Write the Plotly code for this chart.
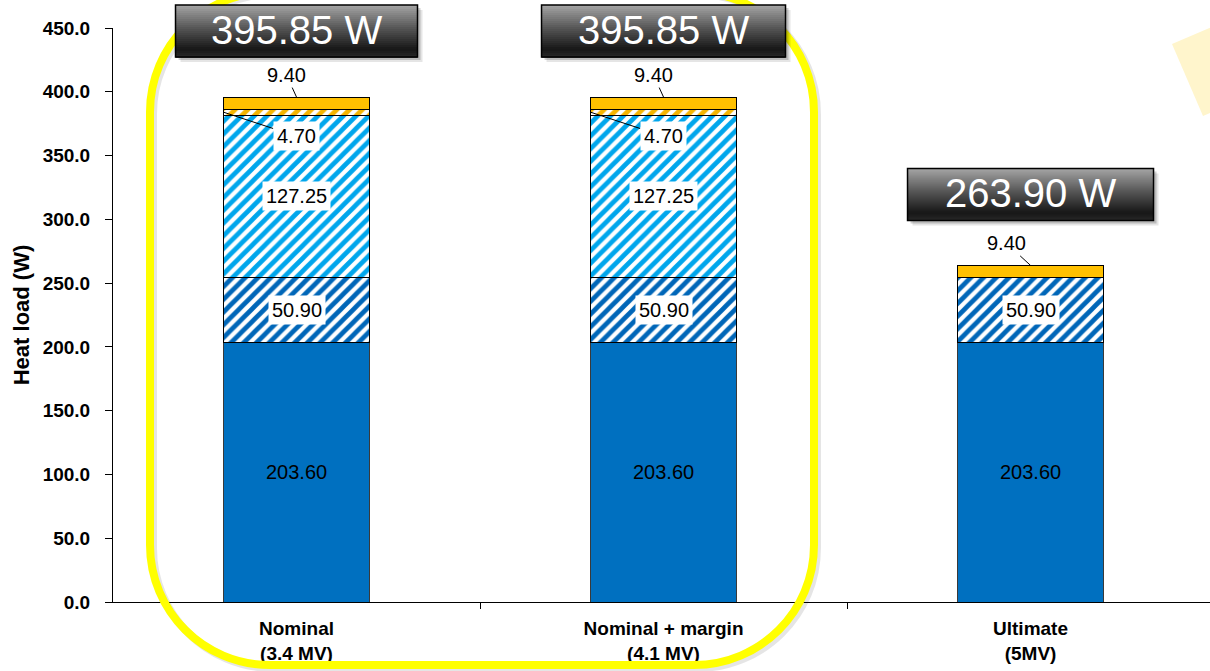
import plotly.graph_objects as go

# ---- data ----
categories = ["Nominal<br>(3.4 MV)", "Nominal + margin<br>(4.1 MV)", "Ultimate<br>(5MV)"]
seg_base = [203.60, 203.60, 203.60]          # solid blue
seg_blue_hatch = [50.90, 50.90, 50.90]       # hatched dark blue
seg_cyan_hatch = [127.25, 127.25, 0.0]       # hatched light blue
seg_orange_hatch = [4.70, 4.70, 0.0]         # hatched orange
seg_orange = [9.40, 9.40, 9.40]              # solid orange
y_ticks = [0, 50, 100, 150, 200, 250, 300, 350, 400, 450]

Y_MAX = 450.0
W, H = 1210, 671
ML, MR, MT, MB = 113, 0, 28, 69
PW, PH = W - ML - MR, H - MT - MB

FONT = "Liberation Sans, Arial, sans-serif"
BLUE = "#0070C0"
CYAN = "#00B0F0"
ORANGE = "#FFC000"

xs = list(range(len(categories)))
totals = [sum(v) for v in zip(seg_base, seg_blue_hatch, seg_cyan_hatch, seg_orange_hatch, seg_orange)]


def px(x, y):
    """pixel position on the page -> paper coordinates"""
    return (x - ML) / PW, (H - MB - y) / PH


fig = go.Figure()

def add_seg(vals, color, hatch, line_color="#000000", hatch_color=None):
    pattern = None
    if hatch:
        pattern = dict(shape="/", fgcolor=hatch_color or color, bgcolor="white",
                       fgopacity=1, size=9, solidity=0.52)
    fig.add_trace(go.Bar(
        x=xs, y=vals, width=0.4,
        marker=dict(color=color, line=dict(color=line_color, width=1), pattern=pattern),
        hoverinfo="skip", showlegend=False,
    ))

add_seg(seg_base, BLUE, False, "#3a3a3a")
add_seg(seg_blue_hatch, BLUE, True, hatch_color="#0066B8")
add_seg(seg_cyan_hatch, CYAN, True, hatch_color="#00A6EC")
add_seg(seg_orange_hatch, ORANGE, True, hatch_color="#F5B400")
add_seg(seg_orange, ORANGE, False)

shapes = []

# pale yellow wedge in the top-right corner
wedge = [px(1172, 44), px(1212, 27), px(1212, 112), px(1203, 116)]
shapes.append(dict(
    type="path", xref="paper", yref="paper", layer="below",
    path="M " + " L ".join(f"{a:.5f},{b:.5f}" for a, b in wedge) + " Z",
    fillcolor="#FFF5CC", line=dict(width=0),
))

# rounded highlight frame around the first two columns
def rounded_rect(left, top, right, bottom, r):
    k = 0.5523 * r
    pts = [
        ("M", [(left + r, top)]),
        ("L", [(right - r, top)]),
        ("C", [(right - r + k, top), (right, top + r - k), (right, top + r)]),
        ("L", [(right, bottom - r)]),
        ("C", [(right, bottom - r + k), (right - r + k, bottom), (right - r, bottom)]),
        ("L", [(left + r, bottom)]),
        ("C", [(left + r - k, bottom), (left, bottom - r + k), (left, bottom - r)]),
        ("L", [(left, top + r)]),
        ("C", [(left, top + r - k), (left + r - k, top), (left + r, top)]),
    ]
    out = []
    for cmd, plist in pts:
        out.append(cmd + " " + " ".join("%.5f,%.5f" % px(a, b) for a, b in plist))
    return " ".join(out) + " Z"

shapes.append(dict(type="path", xref="paper", yref="paper", layer="above",
                   path=rounded_rect(153, -6, 817, 668, 120),
                   line=dict(color="rgba(0,0,0,0.10)", width=8)))
shapes.append(dict(type="path", xref="paper", yref="paper", layer="above",
                   path=rounded_rect(150, -8, 814, 665, 120),
                   line=dict(color="#FFFF00", width=8)))

# dark gradient boxes holding the column totals
box_offsets = [66, 66, 71]
box_half_w = [121, 122, 123]
BOX_HALF_H = 26
grad_stops = [(0.0, (165, 165, 165)), (0.45, (85, 85, 85)), (0.85, (22, 22, 22)), (1.0, (40, 40, 40))]

def grad_color(t):
    for (t0, c0), (t1, c1) in zip(grad_stops[:-1], grad_stops[1:]):
        if t <= t1:
            f = (t - t0) / (t1 - t0)
            c = [round(a + (b - a) * f) for a, b in zip(c0, c1)]
            return "rgb(%d,%d,%d)" % tuple(c)
    return "rgb(%d,%d,%d)" % grad_stops[-1][1]

annotations = []
N_STRIPS = 26
for i, tot in enumerate(totals):
    yc = box_offsets[i]
    hw = box_half_w[i]
    anchor = dict(xref="x", yref="paper", xsizemode="pixel", ysizemode="pixel",
                  xanchor=xs[i], yanchor=tot / Y_MAX, layer="above")
    # soft drop shadow
    for d, a in ((5, 0.10), (3, 0.18)):
        shapes.append(dict(type="rect", **anchor, x0=-hw + d, x1=hw + d,
                           y0=yc - BOX_HALF_H - d, y1=yc + BOX_HALF_H - d,
                           fillcolor=f"rgba(0,0,0,{a})", line=dict(width=0)))
    step = 2 * BOX_HALF_H / N_STRIPS
    for s in range(N_STRIPS):
        top = yc + BOX_HALF_H - s * step
        shapes.append(dict(type="rect", **anchor, x0=-hw, x1=hw,
                           y0=top - step - 0.6, y1=top,
                           fillcolor=grad_color((s + 0.5) / N_STRIPS), line=dict(width=0)))
    shapes.append(dict(type="rect", **anchor, x0=-hw, x1=hw,
                       y0=yc - BOX_HALF_H, y1=yc + BOX_HALF_H,
                       fillcolor="rgba(0,0,0,0)", line=dict(color="#000000", width=1.5)))
    # total value text, placed in paper units at the box centre
    annotations.append(dict(xref="x", yref="paper", x=xs[i], y=tot / Y_MAX + (yc + 1) / PH,
                            yanchor="middle", xanchor="center",
                            text=f"{tot:.2f} W", showarrow=False,
                            font=dict(family=FONT, size=40, color="white")))

# segment value labels
LABEL_FONT = dict(family=FONT, size=20, color="black")
for i in xs:
    b0 = seg_base[i]
    b1 = b0 + seg_blue_hatch[i]
    b2 = b1 + seg_cyan_hatch[i]
    b3 = b2 + seg_orange_hatch[i]
    annotations.append(dict(x=i, y=b0 / 2, text=f"{seg_base[i]:.2f}", showarrow=False, font=LABEL_FONT))
    annotations.append(dict(x=i, y=b0 + seg_blue_hatch[i] / 2, text=f"{seg_blue_hatch[i]:.2f}",
                            showarrow=False, font=LABEL_FONT, bgcolor="white", borderpad=3))
    if seg_cyan_hatch[i] > 0:
        annotations.append(dict(x=i, y=b1 + seg_cyan_hatch[i] / 2, text=f"{seg_cyan_hatch[i]:.2f}",
                                showarrow=False, font=LABEL_FONT, bgcolor="white", borderpad=3))
    if seg_orange_hatch[i] > 0:
        annotations.append(dict(x=i - 0.2, y=b2 + seg_orange_hatch[i] / 2, text=f"{seg_orange_hatch[i]:.2f}",
                                showarrow=True, arrowhead=0, arrowwidth=1, arrowcolor="black",
                                ax=73, ay=24, font=LABEL_FONT, bgcolor="white", borderpad=3))
    annotations.append(dict(x=i, y=b3 + seg_orange[i], text=f"{seg_orange[i]:.2f}",
                            showarrow=True, arrowhead=0, arrowwidth=1, arrowcolor="black",
                            ax=-10 if seg_cyan_hatch[i] > 0 else -24, ay=-22, font=LABEL_FONT))

fig.update_layout(
    width=W, height=H,
    margin=dict(l=ML, r=MR, t=MT, b=MB, pad=0),
    paper_bgcolor="white", plot_bgcolor="white",
    barmode="stack", bargap=0.6,
    showlegend=False,
    shapes=shapes, annotations=annotations,
    font=dict(family=FONT, color="black"),
    xaxis=dict(
        range=[-0.5, 2.489], tickvals=xs, ticktext=categories,
        ticks="", showgrid=False, zeroline=False,
        showline=True, linecolor="black", linewidth=1,
        tickfont=dict(family=FONT, size=19, color="black", weight="bold"),
        ticklabelstandoff=9,
        minor=dict(tickvals=[0.5, 1.5], ticks="outside", ticklen=6, tickcolor="black", tickwidth=1, showgrid=False),
    ),
    yaxis=dict(
        range=[0, Y_MAX], tickvals=y_ticks, tickformat=".1f",
        ticks="outside", ticklen=7, tickcolor="black", tickwidth=1,
        showgrid=False, zeroline=False,
        showline=True, linecolor="black", linewidth=1,
        tickfont=dict(family=FONT, size=19, color="black", weight="bold"),
        ticklabelstandoff=11,
        title=dict(text="Heat load (W)", standoff=6,
                   font=dict(family=FONT, size=22, color="black", weight="bold")),
    ),
)

fig.write_html("out.html")
